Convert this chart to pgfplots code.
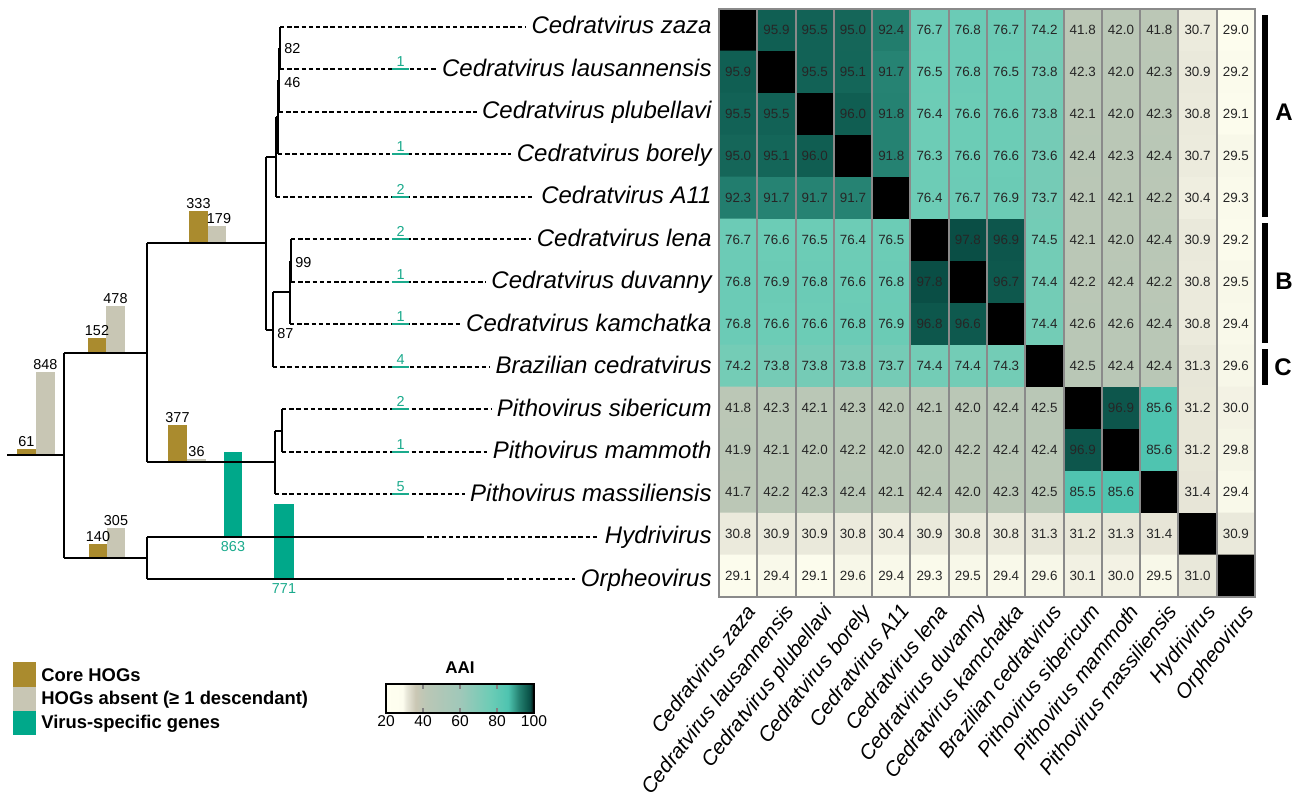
\documentclass[border=0pt]{standalone}
\usepackage{pgfplots}
\pgfplotsset{compat=1.18}
\usepackage{pgfplotstable}
\usepackage{fontspec}
\setmainfont{Liberation Sans}
\definecolor{core}{RGB}{170,139,46}
\definecolor{absent}{RGB}{200,198,180}
\definecolor{vsg}{RGB}{0,168,138}
\definecolor{gtxt}{RGB}{26,170,140}
\definecolor{cellgrid}{RGB}{138,138,138}
\newcommand{\fs}[1]{\fontsize{#1}{#1}\selectfont}
\newcommand{\seg}[4]{\addplot[black, line width=1pt] coordinates {(#1,#2) (#3,#4)};}
\newcommand{\dseg}[3]{\addplot[black, line width=1.1pt, dash pattern=on 2.2pt off 1.4pt] coordinates {(#1,#2) (#3,#2)};}
\newcommand{\vbar}[5]{\pgfmathsetmacro\bt{#3-0.098*#4}\edef\tmp{\noexpand\addplot[fill=#5,draw=none] coordinates {(#1,#3) (#2,#3) (#2,\bt) (#1,\bt)};}\tmp}
\newcommand{\gm}[3]{\addplot[gtxt, line width=1pt] coordinates {(392,#1) (409,#1)};
  \node[anchor=base, font=\fs{7.2}, text=gtxt, inner sep=0pt] at (axis cs:400.5,#2) {#3};}
\newcommand{\tip}[2]{\node[anchor=base east, font=\itshape\fs{12}, inner sep=0pt] at (axis cs:712,#1) {#2};}

\pgfplotstableread[row sep=\\]{
x y c t\\
0 0 100 {}\\ 1 0 95.9 95.9\\ 2 0 95.5 95.5\\ 3 0 95.0 95.0\\ 4 0 92.4 92.4\\ 5 0 76.7 76.7\\ 6 0 76.8 76.8\\ 7 0 76.7 76.7\\ 8 0 74.2 74.2\\ 9 0 41.8 41.8\\ 10 0 42.0 42.0\\ 11 0 41.8 41.8\\ 12 0 30.7 30.7\\ 13 0 29.0 29.0\\
0 1 95.9 95.9\\ 1 1 100 {}\\ 2 1 95.5 95.5\\ 3 1 95.1 95.1\\ 4 1 91.7 91.7\\ 5 1 76.5 76.5\\ 6 1 76.8 76.8\\ 7 1 76.5 76.5\\ 8 1 73.8 73.8\\ 9 1 42.3 42.3\\ 10 1 42.0 42.0\\ 11 1 42.3 42.3\\ 12 1 30.9 30.9\\ 13 1 29.2 29.2\\
0 2 95.5 95.5\\ 1 2 95.5 95.5\\ 2 2 100 {}\\ 3 2 96.0 96.0\\ 4 2 91.8 91.8\\ 5 2 76.4 76.4\\ 6 2 76.6 76.6\\ 7 2 76.6 76.6\\ 8 2 73.8 73.8\\ 9 2 42.1 42.1\\ 10 2 42.0 42.0\\ 11 2 42.3 42.3\\ 12 2 30.8 30.8\\ 13 2 29.1 29.1\\
0 3 95.0 95.0\\ 1 3 95.1 95.1\\ 2 3 96.0 96.0\\ 3 3 100 {}\\ 4 3 91.8 91.8\\ 5 3 76.3 76.3\\ 6 3 76.6 76.6\\ 7 3 76.6 76.6\\ 8 3 73.6 73.6\\ 9 3 42.4 42.4\\ 10 3 42.3 42.3\\ 11 3 42.4 42.4\\ 12 3 30.7 30.7\\ 13 3 29.5 29.5\\
0 4 92.3 92.3\\ 1 4 91.7 91.7\\ 2 4 91.7 91.7\\ 3 4 91.7 91.7\\ 4 4 100 {}\\ 5 4 76.4 76.4\\ 6 4 76.7 76.7\\ 7 4 76.9 76.9\\ 8 4 73.7 73.7\\ 9 4 42.1 42.1\\ 10 4 42.1 42.1\\ 11 4 42.2 42.2\\ 12 4 30.4 30.4\\ 13 4 29.3 29.3\\
0 5 76.7 76.7\\ 1 5 76.6 76.6\\ 2 5 76.5 76.5\\ 3 5 76.4 76.4\\ 4 5 76.5 76.5\\ 5 5 100 {}\\ 6 5 97.8 97.8\\ 7 5 96.9 96.9\\ 8 5 74.5 74.5\\ 9 5 42.1 42.1\\ 10 5 42.0 42.0\\ 11 5 42.4 42.4\\ 12 5 30.9 30.9\\ 13 5 29.2 29.2\\
0 6 76.8 76.8\\ 1 6 76.9 76.9\\ 2 6 76.8 76.8\\ 3 6 76.6 76.6\\ 4 6 76.8 76.8\\ 5 6 97.8 97.8\\ 6 6 100 {}\\ 7 6 96.7 96.7\\ 8 6 74.4 74.4\\ 9 6 42.2 42.2\\ 10 6 42.4 42.4\\ 11 6 42.2 42.2\\ 12 6 30.8 30.8\\ 13 6 29.5 29.5\\
0 7 76.8 76.8\\ 1 7 76.6 76.6\\ 2 7 76.6 76.6\\ 3 7 76.8 76.8\\ 4 7 76.9 76.9\\ 5 7 96.8 96.8\\ 6 7 96.6 96.6\\ 7 7 100 {}\\ 8 7 74.4 74.4\\ 9 7 42.6 42.6\\ 10 7 42.6 42.6\\ 11 7 42.4 42.4\\ 12 7 30.8 30.8\\ 13 7 29.4 29.4\\
0 8 74.2 74.2\\ 1 8 73.8 73.8\\ 2 8 73.8 73.8\\ 3 8 73.8 73.8\\ 4 8 73.7 73.7\\ 5 8 74.4 74.4\\ 6 8 74.4 74.4\\ 7 8 74.3 74.3\\ 8 8 100 {}\\ 9 8 42.5 42.5\\ 10 8 42.4 42.4\\ 11 8 42.4 42.4\\ 12 8 31.3 31.3\\ 13 8 29.6 29.6\\
0 9 41.8 41.8\\ 1 9 42.3 42.3\\ 2 9 42.1 42.1\\ 3 9 42.3 42.3\\ 4 9 42.0 42.0\\ 5 9 42.1 42.1\\ 6 9 42.0 42.0\\ 7 9 42.4 42.4\\ 8 9 42.5 42.5\\ 9 9 100 {}\\ 10 9 96.9 96.9\\ 11 9 85.6 85.6\\ 12 9 31.2 31.2\\ 13 9 30.0 30.0\\
0 10 41.9 41.9\\ 1 10 42.1 42.1\\ 2 10 42.0 42.0\\ 3 10 42.2 42.2\\ 4 10 42.0 42.0\\ 5 10 42.0 42.0\\ 6 10 42.2 42.2\\ 7 10 42.4 42.4\\ 8 10 42.4 42.4\\ 9 10 96.9 96.9\\ 10 10 100 {}\\ 11 10 85.6 85.6\\ 12 10 31.2 31.2\\ 13 10 29.8 29.8\\
0 11 41.7 41.7\\ 1 11 42.2 42.2\\ 2 11 42.3 42.3\\ 3 11 42.4 42.4\\ 4 11 42.1 42.1\\ 5 11 42.4 42.4\\ 6 11 42.0 42.0\\ 7 11 42.3 42.3\\ 8 11 42.5 42.5\\ 9 11 85.5 85.5\\ 10 11 85.6 85.6\\ 11 11 100 {}\\ 12 11 31.4 31.4\\ 13 11 29.4 29.4\\
0 12 30.8 30.8\\ 1 12 30.9 30.9\\ 2 12 30.9 30.9\\ 3 12 30.8 30.8\\ 4 12 30.4 30.4\\ 5 12 30.9 30.9\\ 6 12 30.8 30.8\\ 7 12 30.8 30.8\\ 8 12 31.3 31.3\\ 9 12 31.2 31.2\\ 10 12 31.3 31.3\\ 11 12 31.4 31.4\\ 12 12 100 {}\\ 13 12 30.9 30.9\\
0 13 29.1 29.1\\ 1 13 29.4 29.4\\ 2 13 29.1 29.1\\ 3 13 29.6 29.6\\ 4 13 29.4 29.4\\ 5 13 29.3 29.3\\ 6 13 29.5 29.5\\ 7 13 29.4 29.4\\ 8 13 29.6 29.6\\ 9 13 30.1 30.1\\ 10 13 30.0 30.0\\ 11 13 29.5 29.5\\ 12 13 31.0 31.0\\ 13 13 100 {}\\
}\hm

\begin{document}
\begin{tikzpicture}
% ---------------- canvas: tree, bars, legend ----------------
\begin{axis}[name=canvas, at={(0,0)}, anchor=north west, x=0.5pt, y=0.5pt, y dir=reverse,
  xmin=0, xmax=1301, ymin=0, ymax=799, hide axis, clip=false, scale only axis]
% bars (x0, x1, base, value)
\vbar{17}{36}{455.4}{61}{core}
\vbar{36}{55}{455.4}{848}{absent}
\vbar{88}{106}{352.8}{152}{core}
\vbar{106}{125}{352.8}{478}{absent}
\vbar{189}{208}{243.2}{333}{core}
\vbar{208}{226}{243.2}{179}{absent}
\vbar{168}{187}{462.4}{377}{core}
\vbar{187}{206}{462.4}{36}{absent}
\vbar{89}{107}{558}{140}{core}
\vbar{107}{125}{558}{305}{absent}
\vbar{224}{242}{536.8}{863}{vsg}
\vbar{274}{294}{579.3}{771}{vsg}
% tree
\seg{7}{455.4}{64}{455.4}
\seg{64}{352.8}{64}{558}
\seg{64}{352.8}{147}{352.8}
\seg{147}{243.2}{147}{462.4}
\seg{147}{243.2}{266}{243.2}
\seg{266}{156.9}{266}{329.6}
\seg{266}{156.9}{276}{156.9}
\seg{276}{117}{276}{196.7}
\seg{276}{117}{278}{117}
\seg{278}{79.9}{278}{154.2}
\seg{278}{79.9}{279}{79.9}
\seg{279}{48}{279}{111.7}
\seg{279}{48}{280}{48}
\seg{280}{26.7}{280}{69.2}
\seg{266}{329.6}{273}{329.6}
\seg{273}{292.4}{273}{366.8}
\seg{273}{292.4}{290}{292.4}
\seg{290}{260.5}{290}{324.3}
\seg{290}{260.5}{291}{260.5}
\seg{291}{239.3}{291}{281.8}
\seg{147}{462.4}{275}{462.4}
\seg{275}{430.5}{275}{494.3}
\seg{275}{430.5}{282}{430.5}
\seg{282}{409.3}{282}{451.8}
\seg{64}{558}{147}{558}
\seg{147}{536.8}{147}{579.3}
\seg{147}{536.8}{420}{536.8}
\seg{147}{579.3}{500}{579.3}
% dashed tips
\dseg{280}{26.7}{526}
\dseg{280}{69.2}{437}
\dseg{279}{111.7}{477}
\dseg{278}{154.2}{511}
\dseg{276}{196.7}{534}
\dseg{291}{239.3}{531}
\dseg{291}{281.8}{486}
\dseg{290}{324.3}{461}
\dseg{273}{366.8}{490}
\dseg{282}{409.3}{491}
\dseg{282}{451.8}{487}
\dseg{275}{494.3}{465}
\dseg{420}{536.8}{599}
\dseg{500}{579.3}{575}
% green virus-specific counts
\gm{69.2}{66.7}{1}
\gm{154.2}{151.7}{1}
\gm{196.7}{194.2}{2}
\gm{239.3}{236.8}{2}
\gm{281.8}{279.3}{1}
\gm{324.3}{321.8}{1}
\gm{366.8}{364.3}{4}
\gm{409.3}{406.8}{2}
\gm{451.8}{449.3}{1}
\gm{494.3}{491.8}{5}
% tip labels
\tip{33.7}{Cedratvirus zaza}
\tip{76.2}{Cedratvirus lausannensis}
\tip{118.7}{Cedratvirus plubellavi}
\tip{161.2}{Cedratvirus borely}
\tip{203.7}{Cedratvirus A11}
\tip{246.3}{Cedratvirus lena}
\tip{288.8}{Cedratvirus duvanny}
\tip{331.3}{Cedratvirus kamchatka}
\tip{373.8}{Brazilian cedratvirus}
\tip{416.3}{Pithovirus sibericum}
\tip{458.8}{Pithovirus mammoth}
\tip{501.3}{Pithovirus massiliensis}
\tip{543.8}{Hydrivirus}
\tip{586.3}{Orpheovirus}
% bar value labels
\begin{scope}[every node/.style={font=\fs{7.2}, inner sep=1pt}]
\node[anchor=south] at (axis cs:26.5,449.4) {61};
\node[anchor=south] at (axis cs:45.5,372.3) {848};
\node[anchor=south] at (axis cs:97,337.9) {152};
\node[anchor=south] at (axis cs:115.5,306) {478};
\node[anchor=south] at (axis cs:198.5,210.6) {333};
\node[anchor=south] at (axis cs:219,225.7) {179};
\node[anchor=south] at (axis cs:177.5,425.5) {377};
\node[anchor=south] at (axis cs:196.5,458.9) {36};
\node[anchor=south] at (axis cs:98,544.3) {140};
\node[anchor=south] at (axis cs:116,528.1) {305};
\node[anchor=north, text=gtxt] at (axis cs:233,539) {863};
\node[anchor=north, text=gtxt] at (axis cs:284,581.5) {771};
\node[anchor=west] at (axis cs:282,49) {82};
\node[anchor=west] at (axis cs:282,83) {46};
\node[anchor=west] at (axis cs:293,263) {99};
\node[anchor=west] at (axis cs:275,334) {87};
\end{scope}
% clade bars and letters
\addplot[fill=black, draw=none] coordinates {(1262,15) (1268,15) (1268,217) (1262,217)};
\addplot[fill=black, draw=none] coordinates {(1262,223) (1268,223) (1268,343) (1262,343)};
\addplot[fill=black, draw=none] coordinates {(1262,349) (1268,349) (1268,385) (1262,385)};
\node[font=\bfseries\fs{12}] at (axis cs:1284,112) {A};
\node[font=\bfseries\fs{12}] at (axis cs:1284,281) {B};
\node[font=\bfseries\fs{12}] at (axis cs:1283,367) {C};
% legend
\addplot[fill=core, draw=none] coordinates {(13,662) (36,662) (36,686.5) (13,686.5)};
\addplot[fill=absent, draw=none] coordinates {(13,686.5) (36,686.5) (36,711) (13,711)};
\addplot[fill=vsg, draw=none] coordinates {(13,711) (36,711) (36,735) (13,735)};
\begin{scope}[every node/.style={font=\bfseries\fs{9.2}, anchor=west, inner sep=0pt}]
\node at (axis cs:41,675) {Core HOGs};
\node at (axis cs:41,699.5) {HOGs absent (≥ 1 descendant)};
\node at (axis cs:41,723.5) {Virus-specific genes};
\end{scope}
\end{axis}
% ---------------- heatmap ----------------
\begin{axis}[name=hm, at={(359.5pt,-4.5pt)}, anchor=north west,
  width=268pt, height=294pt, scale only axis,
  xmin=-0.5, xmax=13.5, ymin=-0.5, ymax=13.5, y dir=reverse,
  xtick={0,...,13}, ytick=\empty,
  xticklabels={Cedratvirus zaza, Cedratvirus lausannensis, Cedratvirus plubellavi, Cedratvirus borely, Cedratvirus A11, Cedratvirus lena, Cedratvirus duvanny, Cedratvirus kamchatka, Brazilian cedratvirus, Pithovirus sibericum, Pithovirus mammoth, Pithovirus massiliensis, Hydrivirus, Orpheovirus},
  minor xtick={-0.5,0.5,...,13.5}, minor ytick={-0.5,0.5,...,13.5},
  xminorgrids=true, yminorgrids=true,
  minor grid style={cellgrid, line width=1pt},
  major tick length=0pt, minor tick length=0pt,
  axis line style={cellgrid, line width=1pt},
  axis on top,
  xticklabel style={font=\itshape\fs{10.4}, inner sep=0pt, xshift=3.5pt, yshift=-2.5pt, rotate=52, anchor=north east},
  colormap={aai}{[1pt] rgb255(20pt)=(255,255,240) rgb255(29pt)=(253,253,238) rgb255(31pt)=(233,232,218) rgb255(36pt)=(202,199,180) rgb255(42pt)=(186,199,182) rgb255(60pt)=(160,200,185) rgb255(76pt)=(110,204,182) rgb255(86pt)=(78,196,176) rgb255(92pt)=(36,128,112) rgb255(96pt)=(16,94,82) rgb255(98pt)=(9,76,68) rgb255(100pt)=(0,0,0)},
  point meta min=20, point meta max=100,
  colorbar horizontal,
  colorbar style={
    at={(parent axis.south west)}, anchor=north west,
    xshift=-166.5pt, yshift=-35pt,
    width=74pt, height=14.5pt, scale only axis,
    xtick={20,40,60,80,100},
    xtick pos=both, xticklabel pos=lower,
    xticklabel style={font=\fs{7.8}, inner sep=1pt, rotate=0, anchor=north},
    /pgf/number format/assume math mode=true,
    title={\textbf{AAI}}, title style={font=\fs{8.5}, yshift=-4pt},
    axis line style={black, line width=1pt},
    xtick align=inside, major tick length=2.5pt,
    xtick style={gray, line width=0.8pt},
  },
]
\addplot[matrix plot*, mesh/cols=14, point meta=explicit] table[x=x, y=y, meta=c] \hm;
\addplot[only marks, mark=none, point meta=explicit symbolic,
  nodes near coords, nodes near coords align={center},
  every node near coord/.append style={font=\fs{6.7}, text=black!85, anchor=center, inner sep=0pt}]
  table[x=x, y=y, meta=t] \hm;
\end{axis}
\pgfresetboundingbox
\path[use as bounding box] (0,0) rectangle (650.5pt,-399.5pt);
\end{tikzpicture}
\end{document}
